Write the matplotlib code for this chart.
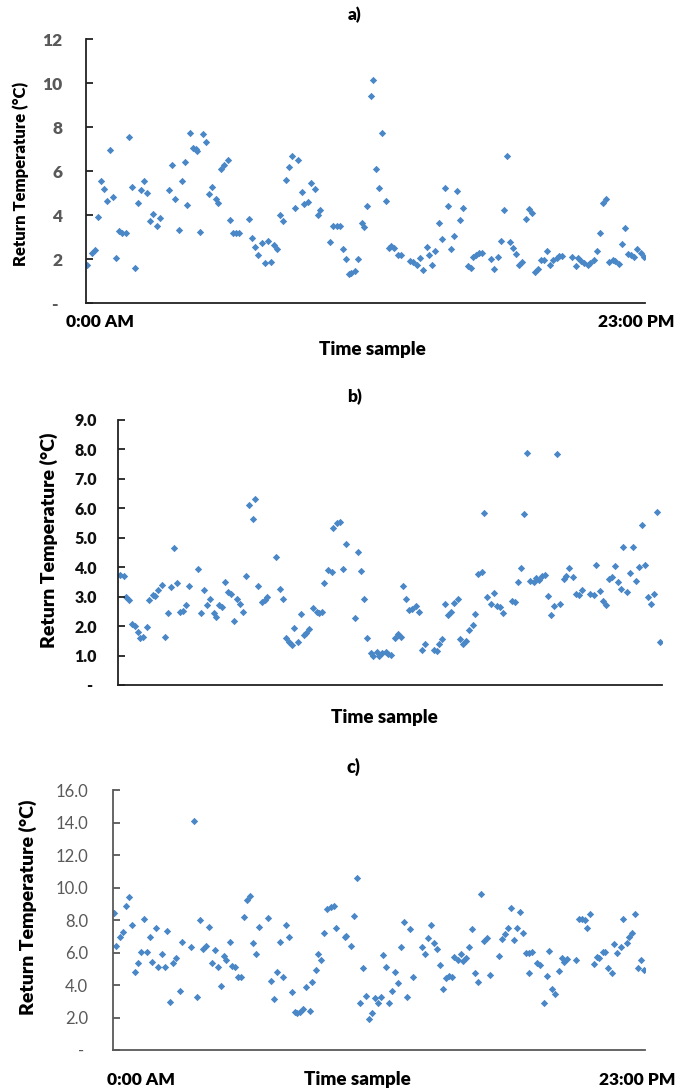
import matplotlib
matplotlib.use('Agg')
import matplotlib.pyplot as plt

plt.rcParams['font.family'] = ['Lato', 'DejaVu Sans']

# time of day (hours) and return temperature for the three sites
a_hours = [0.05, 0.23, 0.37, 0.48, 0.60, 0.74, 0.85, 0.97, 1.11, 1.25, 1.37, 1.50, 1.63, 1.77, 1.88, 2.00,
           2.13, 2.26, 2.40, 2.52, 2.65, 2.77, 2.91, 3.03, 3.40, 3.54, 3.68, 3.81, 3.94, 4.06, 4.17, 4.29,
           4.42, 4.53, 4.58, 4.69, 4.81, 4.95, 5.08, 5.20, 5.34, 5.45, 5.57, 5.69, 5.83, 5.94, 6.06, 6.19,
           6.31, 6.69, 6.83, 6.95, 7.08, 7.23, 7.35, 7.48, 7.60, 7.74, 7.86, 7.98, 8.12, 8.23, 8.37, 8.49,
           8.60, 8.74, 8.88, 8.98, 9.12, 9.26, 9.42, 9.53, 9.64, 10.04, 10.18, 10.32, 10.45, 10.56, 10.69,
           10.81, 10.92, 11.06, 11.19, 11.34, 11.44, 11.58, 11.71, 11.81, 11.93, 12.07, 12.19, 12.33, 12.46,
           12.57, 12.67, 12.84, 12.95, 13.33, 13.47, 13.64, 13.74, 13.88, 14.02, 14.13, 14.25, 14.38, 14.51,
           14.65, 14.77, 14.90, 15.02, 15.14, 15.25, 15.39, 15.51, 15.73, 15.84, 15.94, 16.05, 16.17, 16.28,
           16.65, 16.79, 16.94, 17.09, 17.20, 17.34, 17.46, 17.59, 17.71, 17.82, 17.96, 18.09, 18.22, 18.35,
           18.46, 18.60, 18.71, 18.85, 18.98, 19.11, 19.23, 19.37, 19.48, 19.59, 20.01, 20.15, 20.26, 20.38,
           20.51, 20.64, 20.75, 20.89, 21.03, 21.15, 21.28, 21.40, 21.54, 21.67, 21.78, 21.92, 22.04, 22.17,
           22.30, 22.43, 22.55, 22.69, 22.83, 22.95]
a_temp = [1.75, 2.29, 2.40, 3.92, 5.53, 5.20, 4.65, 6.97, 4.83, 2.05, 3.27, 3.20, 3.20, 7.55, 5.29, 1.60,
          4.56, 5.15, 5.54, 4.98, 3.71, 4.06, 3.49, 3.86, 5.15, 6.29, 4.71, 3.33, 5.54, 6.40, 4.45, 7.75,
          7.06, 6.99, 6.91, 3.24, 7.67, 7.31, 4.94, 5.29, 4.71, 4.56, 6.08, 6.29, 6.50, 3.78, 3.20, 3.17,
          3.17, 3.81, 2.95, 2.55, 2.20, 2.73, 1.81, 2.83, 1.88, 2.63, 2.46, 4.00, 3.75, 5.57, 6.17, 6.68,
          4.34, 6.49, 5.03, 4.51, 4.60, 5.44, 5.20, 4.00, 4.21, 2.78, 3.50, 3.50, 3.50, 2.46, 2.00,
          1.31, 1.37, 1.46, 2.02, 3.62, 3.46, 4.42, 9.42, 10.15, 6.08, 5.24, 7.72, 4.63, 2.50,
          2.60, 2.52, 2.20, 2.17, 1.90, 1.87, 1.75, 2.05, 1.52, 2.55, 2.17, 1.72, 2.37, 3.62,
          2.92, 5.21, 4.39, 2.45, 3.04, 5.10, 3.77, 4.31, 1.69, 1.61, 2.07, 2.17, 2.28, 2.29,
          2.02, 1.56, 2.07, 2.81, 4.25, 6.68, 2.76, 2.48, 2.22, 1.72, 1.87, 3.84, 4.27, 4.10,
          1.41, 1.55, 1.97, 1.97, 2.35, 1.75, 1.97, 2.05, 2.14, 2.14, 2.10, 1.69, 2.05, 1.90,
          1.84, 1.75, 1.84, 1.97, 2.35, 3.17, 4.56, 4.75, 1.87, 1.94, 1.91, 1.79, 2.70, 3.39,
          2.25, 2.17, 2.10, 2.46, 2.29, 2.07]

b_hours = [0.10, 0.24, 0.32, 0.47, 0.61, 0.73, 0.83, 0.95, 1.07, 1.23, 1.33, 1.47, 1.58, 1.71, 1.86, 1.98,
           2.12, 2.23, 2.36, 2.50, 2.62, 2.75, 2.86, 3.02, 3.37, 3.51, 3.64, 3.77, 3.89, 4.04, 4.16, 4.29,
           4.40, 4.54, 4.66, 4.78, 4.92, 5.04, 5.16, 5.29, 5.43, 5.55, 5.69, 5.81, 5.94, 6.08, 6.21, 6.32,
           6.66, 6.83, 6.96, 7.10, 7.21, 7.35, 7.46, 7.61, 7.73, 7.86, 7.97, 8.09, 8.25, 8.40, 8.51, 8.62,
           8.73, 8.89, 9.03, 9.10, 9.24, 9.38, 9.52, 9.62, 10.02, 10.15, 10.27, 10.40, 10.54, 10.68, 10.79,
           10.94, 11.05, 11.18, 11.32, 11.43, 11.56, 11.70, 11.82, 11.95, 12.06, 12.19, 12.32, 12.45, 12.59,
           12.71, 12.84, 12.97, 13.36, 13.48, 13.59, 13.72, 13.84, 13.97, 14.08, 14.22, 14.36, 14.48, 14.60,
           14.72, 14.86, 15.00, 15.11, 15.23, 15.38, 15.49, 15.62, 15.76, 15.89, 16.02, 16.13, 16.27, 16.65,
           16.79, 16.92, 17.05, 17.17, 17.30, 17.43, 17.57, 17.68, 17.81, 17.93, 18.06, 18.20, 18.32, 18.44,
           18.57, 18.70, 18.84, 18.96, 19.08, 19.22, 19.36, 19.47, 19.60, 19.97, 20.11, 20.23, 20.36, 20.49,
           20.62, 20.74, 20.87, 21.00, 21.12, 21.26, 21.36, 21.50, 21.63, 21.77, 21.88, 22.01, 22.15, 22.28,
           22.39, 22.53, 22.65, 22.80, 22.93]
b_temp = [3.74, 3.70, 2.98, 2.89, 2.06, 2.00, 1.81, 1.58, 1.64, 1.96, 2.89, 3.06, 3.03, 3.23, 3.40, 1.64,
          2.46, 3.34, 4.64, 3.45, 2.49, 2.52, 2.72, 3.37, 3.93, 2.43, 3.23, 2.72, 2.91, 2.46, 2.32, 2.72,
          2.66, 3.48, 3.17, 3.08, 2.17, 2.91, 2.75, 2.47, 3.70, 6.10, 5.63, 6.32, 3.36, 2.83, 2.89, 3.00,
          4.36, 3.25, 2.91, 1.58, 1.47, 1.36, 1.95, 1.47, 2.41, 1.70, 1.78, 1.89, 2.60, 2.49, 2.43, 2.48,
          3.45, 3.91, 3.82, 5.32, 5.49, 5.55, 3.94, 4.79, 2.26, 4.51, 3.87, 2.93, 1.60, 1.08, 0.98,
          1.12, 0.98, 1.08, 1.12, 1.05, 1.02, 1.61, 1.73, 1.63, 3.36, 2.92, 2.55, 2.58, 2.68,
          2.49, 1.19, 1.38, 1.19, 1.17, 1.38, 1.57, 2.76, 2.37, 2.47, 2.77, 2.91, 1.56, 1.39,
          1.49, 1.85, 2.02, 2.41, 3.77, 3.82, 5.83, 2.99, 2.75, 3.14, 2.68, 2.64, 2.46, 2.85,
          2.81, 3.50, 3.96, 5.81, 7.89, 3.53, 3.51, 3.62, 3.57, 3.70, 3.74, 3.02, 2.38, 2.68,
          7.83, 2.76, 3.61, 3.70, 3.96, 3.65, 3.09, 3.07, 3.23, 3.08, 3.05, 4.09, 3.20, 2.84,
          2.73, 3.60, 3.66, 4.03, 3.49, 3.25, 4.70, 3.17, 3.80, 4.68, 3.54, 4.02, 5.43, 4.08,
          2.98, 2.76, 3.08, 5.88, 1.47]

c_hours = [0.04, 0.14, 0.29, 0.43, 0.55, 0.69, 0.82, 0.94, 1.07, 1.20, 1.33, 1.47, 1.59, 1.70, 1.85, 1.96,
           2.11, 2.24, 2.35, 2.48, 2.60, 2.73, 2.88, 3.00, 3.36, 3.50, 3.63, 3.75, 3.89, 4.01, 4.14, 4.27,
           4.41, 4.53, 4.66, 4.80, 4.90, 5.05, 5.15, 5.29, 5.42, 5.55, 5.68, 5.80, 5.93, 6.06, 6.19, 6.32,
           6.71, 6.82, 6.95, 7.08, 7.21, 7.35, 7.47, 7.60, 7.74, 7.86, 7.97, 8.07, 8.22, 8.36, 8.51, 8.62,
           8.77, 8.87, 9.01, 9.14, 9.27, 9.42, 9.56, 9.63, 10.02, 10.09, 10.28, 10.41, 10.53, 10.66, 10.79,
           10.93, 11.06, 11.18, 11.32, 11.46, 11.58, 11.68, 11.82, 11.95, 12.07, 12.21, 12.34, 12.46, 12.60,
           12.72, 12.85, 12.98, 13.37, 13.50, 13.61, 13.76, 13.87, 13.99, 14.12, 14.28, 14.38, 14.52, 14.65,
           14.75, 14.90, 15.03, 15.14, 15.28, 15.40, 15.53, 15.66, 15.78, 15.90, 16.03, 16.18, 16.31, 16.70,
           16.83, 16.94, 17.09, 17.22, 17.32, 17.45, 17.59, 17.71, 17.85, 17.97, 18.00, 18.13, 18.31, 18.46,
           18.63, 18.75, 18.85, 18.99, 19.11, 19.26, 19.39, 19.51, 19.64, 20.01, 20.16, 20.29, 20.40, 20.50,
           20.63, 20.78, 20.91, 21.02, 21.17, 21.28, 21.41, 21.56, 21.67, 21.80, 21.95, 22.06, 22.21, 22.32,
           22.44, 22.57, 22.68, 22.83, 22.97]
c_temp = [8.45, 6.42, 6.93, 7.28, 8.88, 9.44, 7.69, 4.82, 5.33, 6.01, 8.06, 6.01, 6.97, 5.39, 7.49, 5.09,
          5.91, 5.13, 7.34, 2.97, 5.33, 5.64, 3.63, 6.63, 6.36, 14.11, 3.28, 8.00, 6.19, 6.40, 7.59, 5.33,
          6.15, 5.09, 3.94, 5.81, 5.54, 6.67, 5.19, 5.13, 4.51, 4.47, 8.21, 9.23, 9.50, 6.56, 5.91, 7.59,
          8.10, 4.27, 3.14, 4.82, 6.63, 4.51, 7.69, 6.97, 3.55, 2.36, 2.26, 2.32, 2.52, 3.90, 2.40, 4.21,
          4.92, 5.91, 5.54, 7.22, 8.66, 8.78, 8.86, 7.53, 6.97, 7.04, 6.42, 8.25, 10.56, 2.87, 5.03,
          3.32, 1.91, 2.26, 3.18, 2.91, 3.24, 5.85, 5.09, 2.87, 3.65, 4.78, 4.10, 6.32, 7.88,
          3.28, 7.47, 4.51, 6.32, 5.91, 6.91, 7.71, 6.56, 6.24, 5.21, 3.75, 4.41, 4.57, 4.51,
          5.74, 5.54, 5.89, 5.48, 5.68, 6.34, 7.45, 4.72, 4.18, 9.58, 6.73, 6.91, 4.62, 5.78,
          6.81, 7.14, 7.53, 8.76, 6.77, 7.53, 8.49, 7.18, 5.95, 4.76, 5.99, 6.01, 5.33, 5.23,
          2.87, 4.57, 6.09, 3.75, 3.43, 4.84, 5.68, 5.39, 5.58, 5.54, 8.06, 8.06, 8.00, 7.53,
          8.35, 5.29, 5.70, 5.64, 6.05, 6.05, 5.03, 4.76, 6.50, 5.99, 6.36, 8.06, 6.61, 6.97,
          7.18, 8.35, 5.07, 5.54, 4.92]

a_ticks = [0, 2, 4, 6, 8, 10, 12]
a_labels = ['- ', '2', '4', '6', '8', '10', '12']
b_ticks = [0, 1, 2, 3, 4, 5, 6, 7, 8, 9]
b_labels = ['- '] + ['%.1f' % t for t in b_ticks[1:]]
c_ticks = [0, 2, 4, 6, 8, 10, 12, 14, 16]
c_labels = ['- '] + ['%.1f' % t for t in c_ticks[1:]]

blue = '#4A87C7'
heavy = 'heavy'
fig = plt.figure(figsize=(6.78, 10.9), dpi=100)


def panel(rect, hours, temp, ticks, labels, tick_color, tick_weight, tick_size, pad, spine_color):
    ax = fig.add_axes(rect)
    ax.scatter(hours, temp, marker='D', s=14, color=blue, linewidths=0)
    ax.set_xlim(0, 23)
    ax.set_ylim(ticks[0], ticks[-1])
    ax.set_yticks(ticks)
    ax.set_yticklabels(labels, fontweight=tick_weight, fontsize=tick_size, color=tick_color)
    ax.set_xticks([])
    for s in ['top', 'right']:
        ax.spines[s].set_visible(False)
    for s in ['left', 'bottom']:
        ax.spines[s].set_color(spine_color)
        ax.spines[s].set_linewidth(1.3)
    ax.tick_params(axis='y', direction='in', length=5, width=1.3, color=spine_color, pad=pad)
    return ax


ax1 = panel([0.1268, 0.7220, 0.8245, 0.2422], a_hours, a_temp, a_ticks, a_labels,
            '#595959', heavy, 12.5, 17, '#222222')
ax2 = panel([0.1740, 0.3716, 0.8024, 0.2431], b_hours, b_temp, b_ticks, b_labels,
            '#111111', heavy, 11.5, 15, '#222222')
ax3 = panel([0.1667, 0.0367, 0.7847, 0.2385], c_hours, c_temp, c_ticks, c_labels,
            '#595959', 'normal', 12, 18, '#595959')

# panel letters
fig.text(0.5236, 0.9862, 'a)', ha='center', va='center', fontsize=12.5, fontweight=heavy)
fig.text(0.5236, 0.6358, 'b)', ha='center', va='center', fontsize=12.5, fontweight=heavy)
fig.text(0.5206, 0.2963, 'c)', ha='center', va='center', fontsize=13, fontweight=heavy)

# y labels
fig.text(0.031, 0.8404, 'Return Temperature (°C)', rotation=90, ha='center', va='center',
         fontsize=12, fontweight=heavy)
fig.text(0.0723, 0.5046, 'Return Temperature (°C)', rotation=90, ha='center', va='center',
         fontsize=14, fontweight=heavy)
fig.text(0.0413, 0.1679, 'Return Temperature (°C)', rotation=90, ha='center', va='center',
         fontsize=14, fontweight=heavy)

# x labels
fig.text(0.1475, 0.7046, '0:00 AM', ha='center', va='center', fontsize=12.5, fontweight=heavy)
fig.text(0.938, 0.7046, '23:00 PM', ha='center', va='center', fontsize=12.5, fontweight=heavy)
fig.text(0.5487, 0.6789, 'Time sample', ha='center', va='center', fontsize=13.5, fontweight=heavy)

fig.text(0.5664, 0.3413, 'Time sample', ha='center', va='center', fontsize=13.5, fontweight=heavy)

fig.text(0.208, 0.0092, '0:00 AM', ha='center', va='center', fontsize=12.5, fontweight=heavy)
fig.text(0.5265, 0.0092, 'Time sample', ha='center', va='center', fontsize=13.5, fontweight=heavy)
fig.text(0.9395, 0.0092, '23:00 PM', ha='center', va='center', fontsize=12.5, fontweight=heavy)

fig.savefig('out.png', dpi=100)
